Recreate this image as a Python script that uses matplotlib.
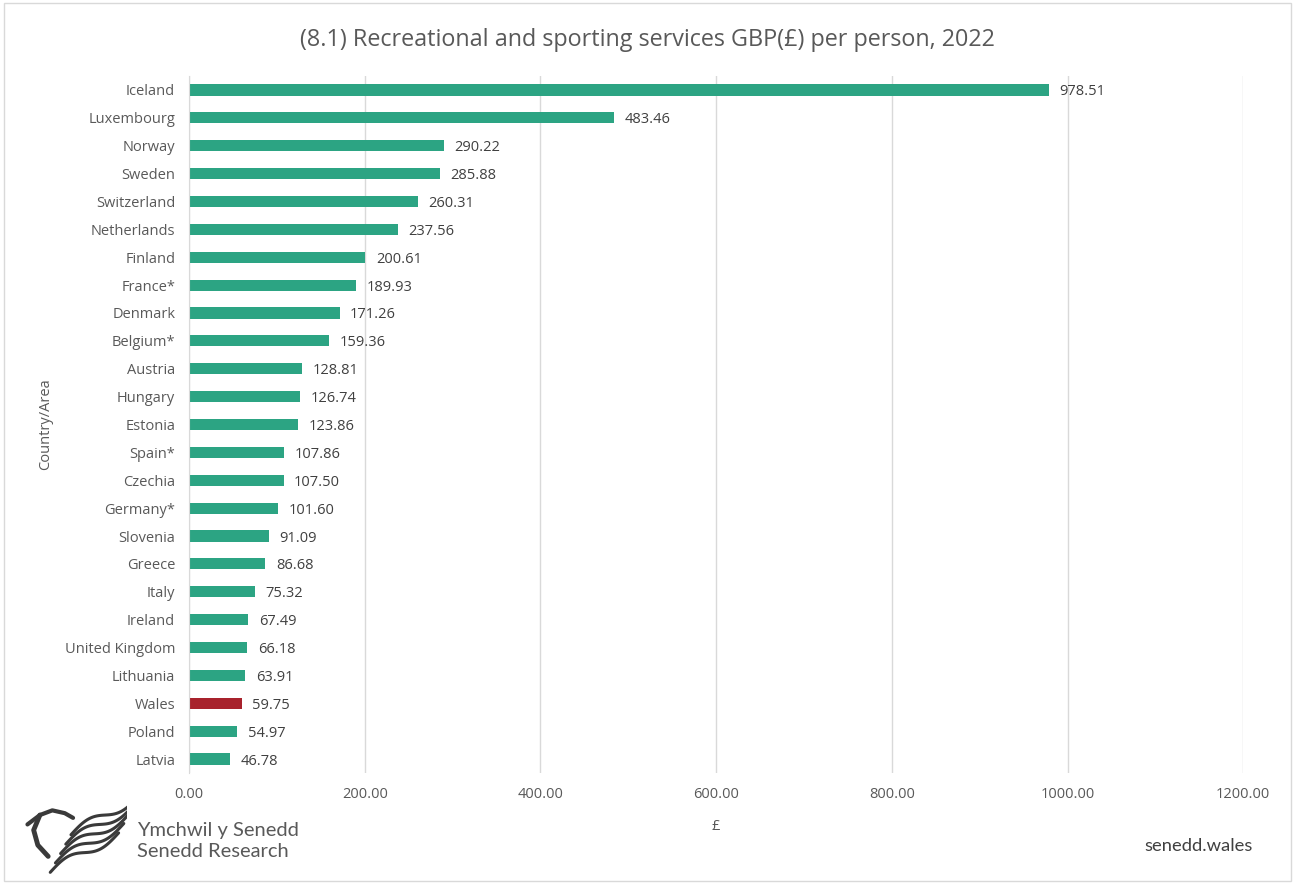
import matplotlib
matplotlib.use("Agg")
import matplotlib.pyplot as plt
from matplotlib.patches import Rectangle
import numpy as np

countries = ["Iceland", "Luxembourg", "Norway", "Sweden", "Switzerland", "Netherlands",
             "Finland", "France*", "Denmark", "Belgium*", "Austria", "Hungary", "Estonia",
             "Spain*", "Czechia", "Germany*", "Slovenia", "Greece", "Italy", "Ireland",
             "United Kingdom", "Lithuania", "Wales", "Poland", "Latvia"]
values = [978.51, 483.46, 290.22, 285.88, 260.31, 237.56, 200.61, 189.93, 171.26, 159.36,
          128.81, 126.74, 123.86, 107.86, 107.50, 101.60, 91.09, 86.68, 75.32, 67.49,
          66.18, 63.91, 59.75, 54.97, 46.78]
xticks = [0, 200, 400, 600, 800, 1000, 1200]

GREEN = "#2CA483"
RED = "#A8222C"
TXT = "#595959"

plt.rcParams['font.family'] = ['Open Sans', 'DejaVu Sans']

fig = plt.figure(figsize=(12.95, 8.84), dpi=100)
fig.patch.set_facecolor("white")
fig.add_artist(Rectangle((0.003, 0.003), 0.994, 0.994, transform=fig.transFigure,
                         fill=False, edgecolor="#D9D9D9", linewidth=1))

ax = fig.add_axes([0.146, 0.1256, 0.814, 0.7884])
y = np.arange(len(countries))
colors = [RED if c == "Wales" else GREEN for c in countries]
ax.barh(y, values, height=0.4, color=colors, zorder=3)
ax.set_ylim(len(countries) - 0.5, -0.5)
ax.set_xlim(0, 1200)
ax.set_xticks(xticks)
ax.set_xticklabels([f"{v:.2f}" for v in xticks], fontsize=10.5, color=TXT)
ax.set_yticks(y)
ax.set_yticklabels(countries, fontsize=10.5, color=TXT)
ax.tick_params(axis='both', length=0, pad=10)
ax.tick_params(axis='y', pad=10)
ax.grid(axis='x', color="#D9D9D9", linewidth=1, zorder=0)
for s in ["top", "right", "bottom"]:
    ax.spines[s].set_visible(False)
ax.spines["left"].set_color("#D9D9D9")
ax.spines["left"].set_zorder(4)

for yi, v in zip(y, values):
    ax.text(v + 12, yi, f"{v:.2f}", va="center_baseline", ha="left", fontsize=10.5,
            color="#404040")

ax.set_xlabel("£", fontsize=10.5, color=TXT, labelpad=12)
fig.text(0.035, 0.52, "Country/Area", rotation=90, fontsize=10.5, color=TXT,
         ha="center", va="center")

fig.text(0.5, 0.955, "(8.1) Recreational and sporting services GBP(£) per person, 2022",
         ha="center", va="center", fontsize=16.8, color=TXT)

# Logo approximation (dragon head + swooshes)
lax = fig.add_axes([0.018, 0.01, 0.08, 0.085])
lax.set_xlim(0, 10)
lax.set_ylim(0, 8)
lax.axis("off")
t = np.linspace(0, 1, 60)
for k in range(5):
    xs = 2.6 + k * 0.5 + 6.6 * t
    ys = 0.3 + k * 1.0 + 4.2 * t + 0.6 * np.sin(2 * np.pi * t)
    lax.plot(xs, ys, color="#3A3A3A", linewidth=2.2, solid_capstyle="round")
# dragon head
lax.plot([0.4, 1.6, 2.8, 4.0, 4.8], [5.4, 6.4, 6.9, 6.6, 6.1], color="#3A3A3A",
         linewidth=3, solid_capstyle="round")
lax.plot([1.6, 1.0, 1.4, 2.4], [6.4, 4.8, 3.2, 2.0], color="#3A3A3A", linewidth=3.5,
         solid_capstyle="round")

fig.text(0.106, 0.061, "Ymchwil y Senedd", fontsize=14.5, color="#595959",
         ha="left", va="center", family=["Lato", "DejaVu Sans"])
fig.text(0.106, 0.037, "Senedd Research", fontsize=14.5, color="#595959",
         ha="left", va="center", family=["Lato", "DejaVu Sans"])
fig.text(0.967, 0.043, "senedd.wales", fontsize=13.2, color="#404040",
         ha="right", va="center", family=["Lato", "DejaVu Sans"])

fig.savefig("out.png", dpi=100)
